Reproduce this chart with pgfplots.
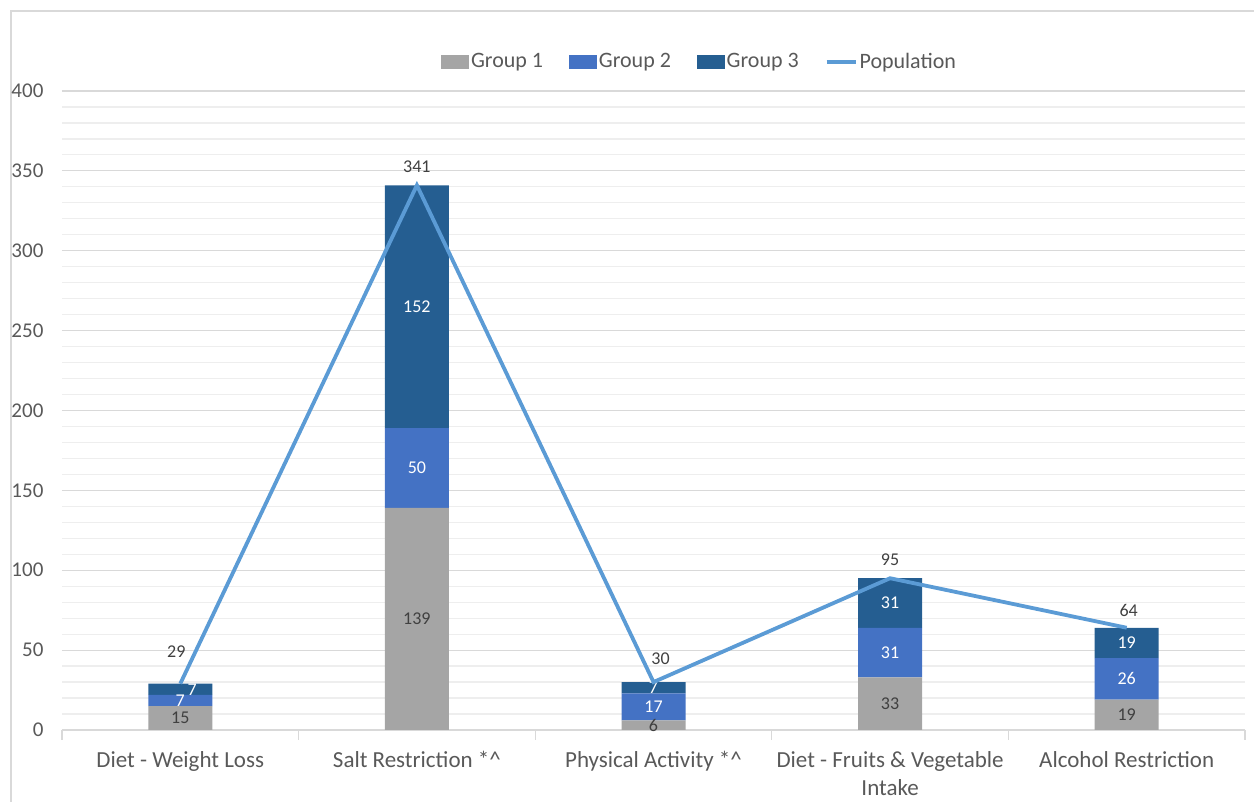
\documentclass[border=0pt]{standalone}
\usepackage{fontspec}
\setmainfont{Carlito}
\usepackage{pgfplots}
\usepackage{pgfplotstable}
\pgfplotsset{compat=1.18}
\definecolor{gA}{HTML}{A5A5A5}
\definecolor{gB}{HTML}{4472C4}
\definecolor{gC}{HTML}{255E91}
\definecolor{pop}{HTML}{5B9BD5}
\definecolor{txt}{HTML}{595959}
\definecolor{lbl}{HTML}{404040}
\definecolor{gridc}{HTML}{D9D9D9}
\definecolor{mgridc}{HTML}{EEEEEE}

\pgfplotstableread{
x g1 g2 g3 pop dy dx gdx
0 15 7 7 29 9 -2 6
1 139 50 152 341 2 0 0
2 6 17 7 30 4.5 3.5 0
3 33 31 31 95 2 0 0
4 19 26 19 64 1.5 1 0
}\data

\pgfplotsset{base/.style={scale only axis, width=591.5pt, height=319.5pt,
  xmin=-0.5, xmax=4.5, ymin=0, ymax=400,
  /pgf/number format/assume math mode=true},
}
\newcommand{\lblfont}{\fontsize{9}{10}\selectfont}

\begin{document}
\begin{tikzpicture}
\useasboundingbox (-31pt,-36pt) rectangle (596pt,365pt);
\draw[gridc, line width=0.7pt] (-25.5pt,-40pt) -- (-25.5pt,359.5pt) -- (600pt,359.5pt);
\begin{axis}[base,
  ybar stacked, bar width=32pt,
  axis line style={draw=none},
  ytick={0,50,...,400}, minor y tick num=4,
  ymajorgrids, yminorgrids,
  major grid style={gridc, line width=0.6pt},
  minor grid style={mgridc, line width=0.6pt},
  ytick style={draw=none}, minor y tick style={draw=none},
  xtick={0,...,4}, xtick pos=bottom, ytick pos=left,
  xticklabels={Diet - Weight Loss, Salt Restriction *\textasciicircum, Physical Activity *\textasciicircum, Diet - Fruits \& Vegetable\\Intake, Alcohol Restriction},
  major x tick style={draw=none},
  minor xtick={-0.5,0.5,...,4.5},
  minor x tick style={gridc, line width=0.6pt},
  tick align=outside, minor tick length=5pt,
  yticklabel style={font=\fontsize{10.5}{12}\selectfont, text=txt, xshift=-1.5pt},
  xticklabel style={font=\fontsize{11.5}{14}\selectfont, text=txt, align=center, yshift=-3pt},
  nodes near coords, point meta=explicit,
  every node near coord/.append style={anchor=center, font=\lblfont},
]
\addplot[fill=gA, draw=none, every node near coord/.append style={text=lbl}]
  table[x=x, y=g1, meta=g1]{\data};
\addplot[fill=gB, draw=none, every node near coord/.append style={text=white}]
  table[x=x, y=g2, meta=g2]{\data};
\addplot[fill=gC, draw=none,
  visualization depends on={\thisrow{gdx} \as \gdx},
  every node near coord/.append style={text=white, xshift={\gdx pt}}]
  table[x=x, y=g3, meta=g3]{\data};
\end{axis}
\begin{axis}[base, hide axis, clip=false,
  legend style={at={(0.539,1.0455)}, anchor=center, draw=none, fill=none,
    font=\fontsize{11}{13}\selectfont, text=txt, legend columns=4,
    nodes={inner sep=1pt},
    /tikz/every even column/.append style={column sep=12pt}},
]
\addlegendimage{legend image code/.code={\fill[gA] (0pt,-3.2pt) rectangle (13.5pt,3.2pt);}}
\addlegendentry{Group 1}
\addlegendimage{legend image code/.code={\fill[gB] (0pt,-3.2pt) rectangle (13.5pt,3.2pt);}}
\addlegendentry{Group 2}
\addlegendimage{legend image code/.code={\fill[gC] (0pt,-3.2pt) rectangle (13.5pt,3.2pt);}}
\addlegendentry{Group 3}
\addplot[pop, line width=1.9pt, mark=none, nodes near coords, point meta=explicit,
  visualization depends on={\thisrow{dy} \as \dy},
  visualization depends on={\thisrow{dx} \as \dx},
  every node near coord/.append style={anchor=south, text=lbl, font=\lblfont, yshift={\dy pt}, xshift={\dx pt}},
  legend image code/.code={\draw[pop, line width=1.9pt] (0pt,0pt) -- (14.5pt,0pt);}]
  table[x=x, y=pop, meta=pop]{\data};
\addlegendentry{Population}
\end{axis}
\end{tikzpicture}
\end{document}
